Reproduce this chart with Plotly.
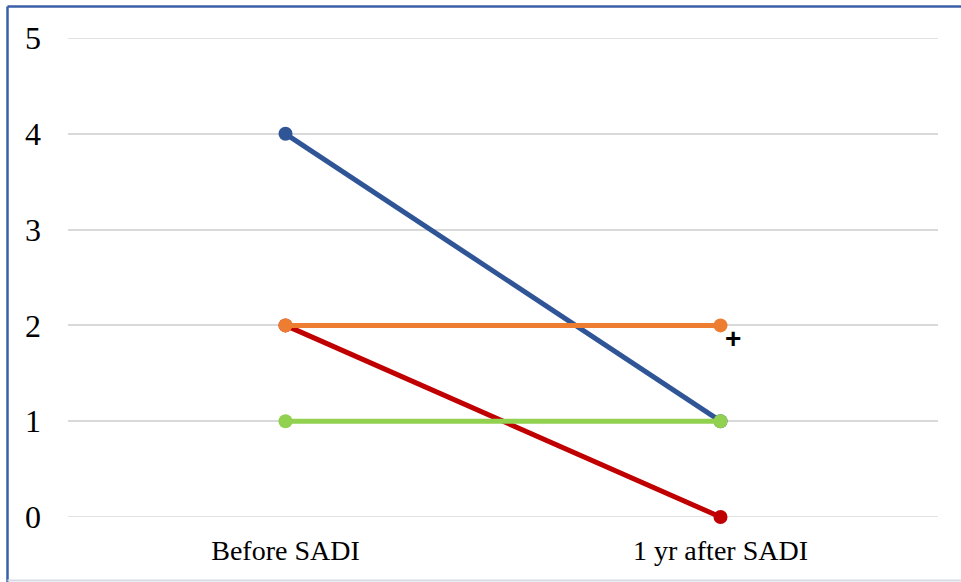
import plotly.graph_objects as go

categories = ["Before SADI", "1 yr after SADI"]
series_names = ["Patient 1", "Patient 2", "Patient 3", "Patient 4"]
series_values = [
    [4, 1],  # blue
    [2, 0],  # red
    [2, 2],  # orange
    [1, 1],  # green
]
series_colors = ["#2F5597", "#C00000", "#ED7D31", "#92D050"]
y_ticks = [0, 1, 2, 3, 4, 5]

fig = go.Figure()
for name, vals, col in zip(series_names, series_values, series_colors):
    fig.add_trace(go.Scatter(
        x=categories, y=vals, mode="lines+markers", name=name,
        line=dict(color=col, width=5),
        marker=dict(color=col, size=14),
        cliponaxis=False, showlegend=False,
    ))

fig.add_annotation(x=categories[1], y=2, text="<b>+</b>", showarrow=False,
                   xshift=12, yshift=-13,
                   font=dict(family="Liberation Sans, Arial", size=28, color="black"))

L, R, T, B = 68, 23, 38, 65
W, H = 961, 582
pw = W - L - R
ph = H - T - B
def px_x(p):
    return (p - L) / pw
def px_y(p):
    return (H - B - p) / ph

# edge gridlines (plotly hides gridlines at the plot edges)
for yv in (y_ticks[0], y_ticks[-1]):
    fig.add_shape(type="line", xref="paper", yref="y", x0=0, x1=1, y0=yv, y1=yv,
                  line=dict(color="#D9D9D9", width=1.5), layer="below")

# frame lines
fig.add_shape(type="line", xref="paper", yref="paper",
              x0=px_x(7.5), x1=px_x(961), y0=px_y(6.5), y1=px_y(6.5),
              line=dict(color="#3A5FA8", width=2.5))
fig.add_shape(type="line", xref="paper", yref="paper",
              x0=px_x(7.5), x1=px_x(7.5), y0=px_y(6.5), y1=px_y(582),
              line=dict(color="#3A5FA8", width=2.5))
fig.add_shape(type="line", xref="paper", yref="paper",
              x0=px_x(7.5), x1=px_x(961), y0=px_y(580.5), y1=px_y(580.5),
              line=dict(color="#D6DCE4", width=2))

fig.update_layout(
    width=W, height=H,
    margin=dict(l=L, r=R, t=T, b=B),
    plot_bgcolor="white", paper_bgcolor="white",
    font=dict(family="Liberation Serif, Times New Roman, serif", color="black"),
    xaxis=dict(type="category", range=[-0.5, 1.5], showgrid=False,
               showline=False, zeroline=False, ticks="",
               tickfont=dict(size=28), ticklabelstandoff=14),
    yaxis=dict(range=[0, 5], tickvals=y_ticks, showgrid=True,
               gridcolor="#D9D9D9", gridwidth=1.5, zeroline=False,
               showline=False, ticks="", tickfont=dict(size=32),
               ticklabelstandoff=26),
)

fig.write_html("out.html", config={"displayModeBar": False},
               post_script="document.body.style.margin='0';document.body.style.overflow='hidden';")
